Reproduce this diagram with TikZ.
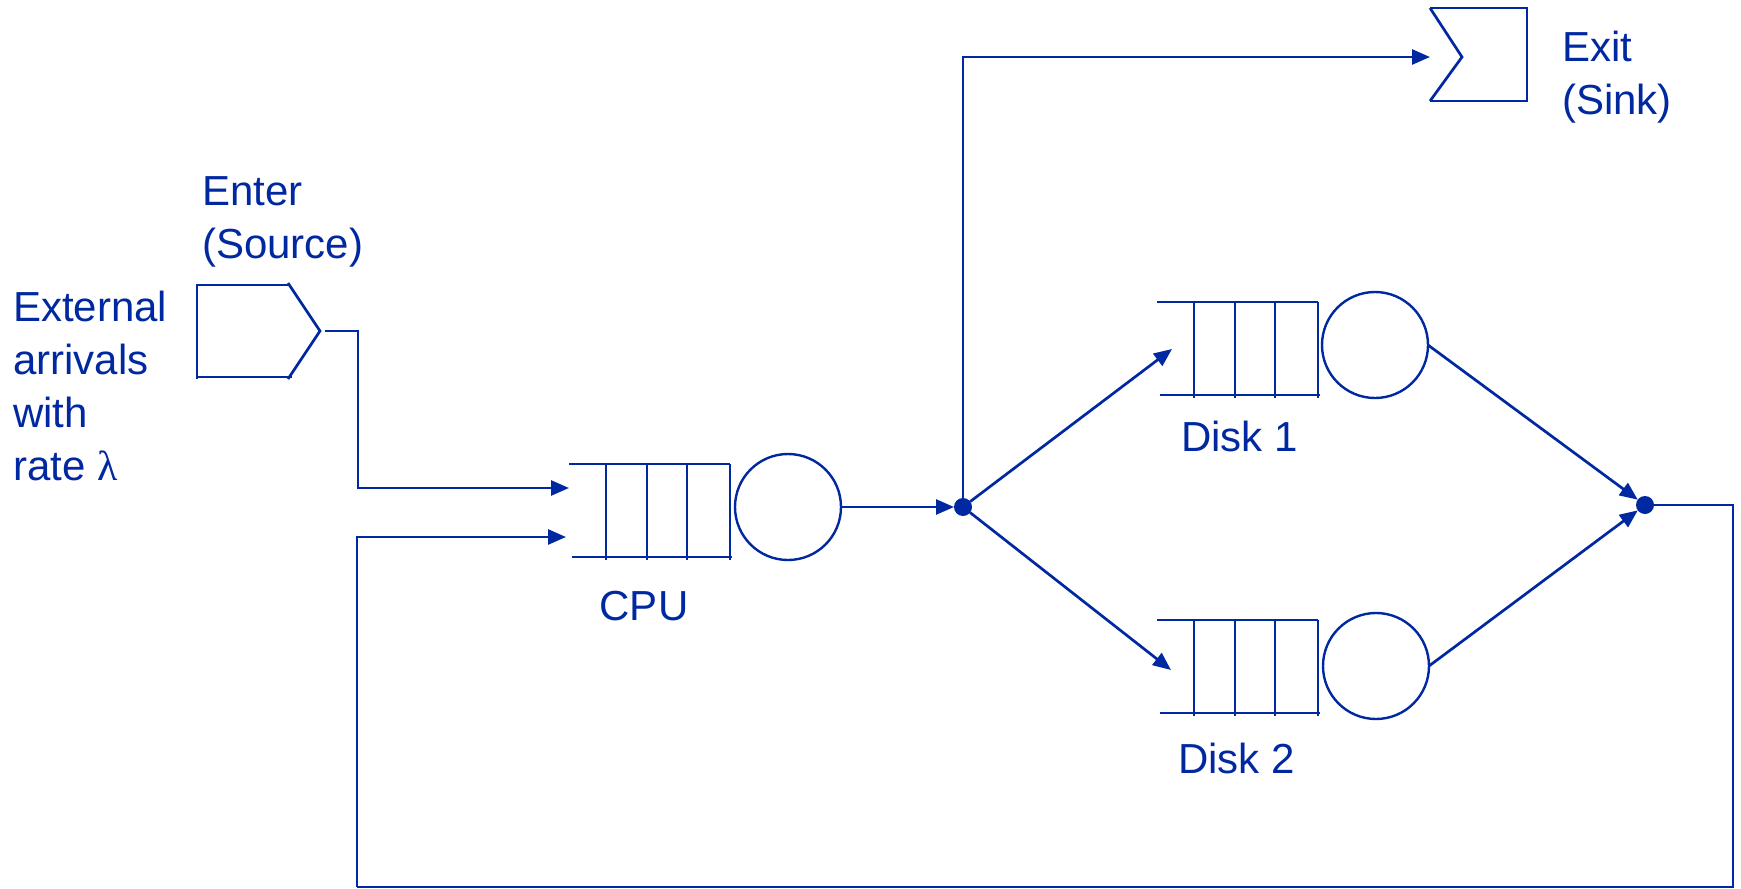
\documentclass[tikz,border=0pt]{standalone}
\usepackage{fontspec}
\setmainfont{Liberation Sans}
\newfontfamily\lamfont{Liberation Serif}
\usetikzlibrary{arrows.meta}
\definecolor{qblue}{RGB}{0,40,160}
\tikzset{
  ln/.style={draw=qblue, line width=2.7pt},
  arr/.style={ln, -{Triangle[length=18pt,width=15pt]}},
  server/.style={circle, draw=qblue, line width=2.4pt, minimum size=106pt, inner sep=0pt, outer sep=0pt},
  jdot/.style={circle, fill=qblue, minimum size=18pt, inner sep=0pt, outer sep=0pt},
  lbl/.style={anchor=base west, align=left, inner sep=0pt, text=qblue, font=\fontsize{42}{53}\selectfont},
  qbuf/.pic={
    \draw[ln] (0,0) -- (161,0);
    \draw[ln] (3,93) -- (163,93);
    \foreach \x in {37,78,118,161} \draw[ln] (\x,0) -- (\x,96);
  }
}
\begin{document}
\begin{tikzpicture}[x=1pt,y=-1pt]
\useasboundingbox (0,0) rectangle (1741,889);
\fill[white] (0,0) rectangle (1741,889);

% source shape
\draw[ln] (290,285) -- (197,285) -- (197,379);
\draw[ln] (197,377) -- (292,377);
\draw[ln] (288,283) -- (320,331) -- (288,379);
\coordinate (srcout) at (325,331);

% exit shape
\draw[ln] (1430,8) -- (1527,8) -- (1527,101) -- (1430,101);
\draw[ln] (1430,8) -- (1462,57) -- (1430,101);
\coordinate (exitin) at (1430,57);

% queues
\pic at (569,464) {qbuf};
\pic at (1157,302) {qbuf};
\pic at (1157,620) {qbuf};

% servers
\node[server] (cpu) at (788,507) {};
\node[server] (d1) at (1375,345) {};
\node[server] (d2) at (1376,666) {};

% junctions
\node[jdot] (j1) at (963,507) {};
\node[jdot] (j2) at (1645,505) {};

\coordinate (cpuin1) at (569,488);
\coordinate (cpuin2) at (566,537);
\coordinate (d1in) at (1172,349);
\coordinate (d2in) at (1171,670);
\coordinate (fbr) at (1733,505);
\coordinate (fbb) at (1733,887);
\coordinate (fbl) at (357,887);

% connectors
\draw[arr] (srcout) -- ++(33,0) |- (cpuin1);
\draw[arr] (cpu.east) -- (j1);
\draw[arr] (j1) |- (exitin);
\draw[arr] (j1) -- (d1in);
\draw[arr] (j1) -- (d2in);
\draw[arr] (d1.east) -- (j2);
\draw[arr] (d2.east) -- (j2);
\draw[ln] (j2) -- (fbr) -- (fbb) -- (fbl);
\draw[arr] (fbl) |- (cpuin2);

% labels (base anchor = last line)
\node[lbl] (ext) at (13,480) {External\\arrivals\\with\\rate {\lamfont λ}};
\node[lbl] (enter) at (202,258) {Enter\\(Source)};
\node[lbl] (exitl) at (1562,114) {Exit\\(Sink)};
\node[lbl, anchor=base] (cpul) at (644,620) {CPU};
\node[lbl] (d1l) at (1181,451) {Disk 1};
\node[lbl] (d2l) at (1178,773) {Disk 2};
\end{tikzpicture}
\end{document}
